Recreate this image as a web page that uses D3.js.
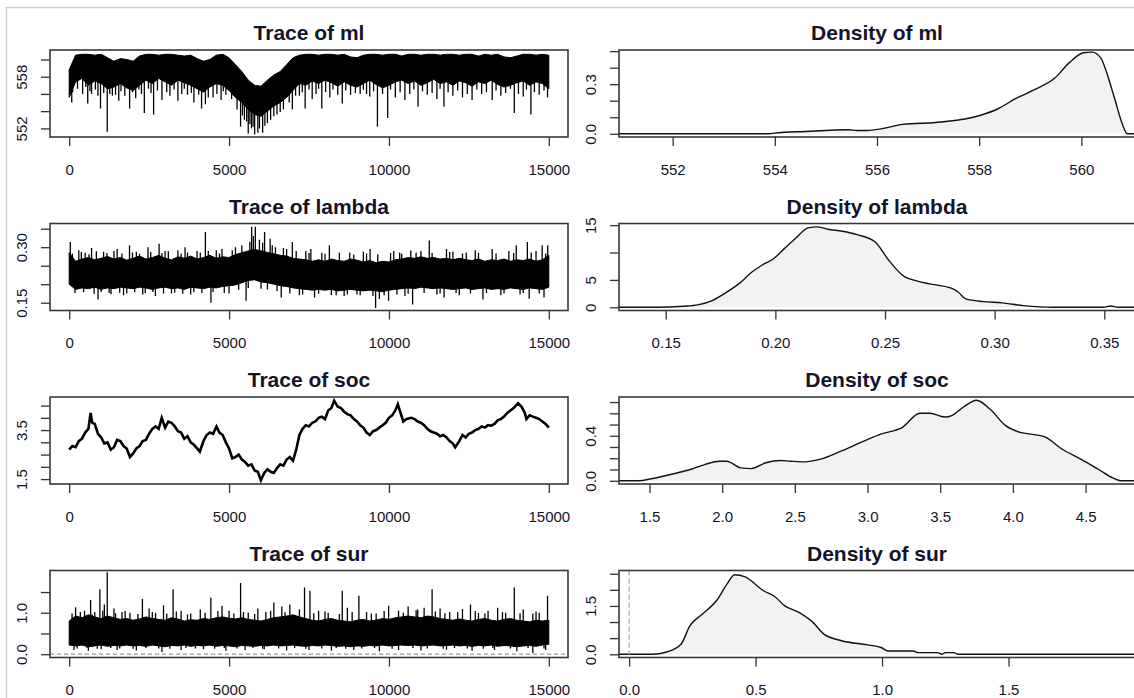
<!DOCTYPE html>
<html><head><meta charset="utf-8">
<script src="https://cdn.jsdelivr.net/npm/d3@7"></script>
<style>
body{margin:0;background:#fff;}
svg{display:block;}
text{font-family:"Liberation Sans",Arial,sans-serif;fill:#141428;}
</style>
</head><body>
<svg id="c" width="1134" height="698"></svg>
<script>
// ---------------- DATA ----------------
const params = ["ml", "lambda", "soc", "sur"];
const traceXTicks = [0, 5000, 10000, 15000];
const traceXLabels = ["0", "5000", "10000", "15000"];
const binStep = 200; // iteration spacing of the band arrays below

// ml trace band (upper / lower edge of the dense core)
const mlHi = [558.8,560.5,560.6,560.6,560.5,560.6,560.2,559.8,560.1,560.0,
  559.8,560.4,560.6,560.6,560.5,560.6,560.6,560.5,560.4,560.5,
  560.1,559.8,560.0,560.5,560.6,560.2,559.4,558.6,557.6,557.0,
  556.9,557.6,558.2,558.6,559.4,560.2,560.5,560.6,560.6,560.5,
  560.6,560.6,560.5,560.6,560.3,560.2,560.5,560.6,560.6,560.5,
  560.6,560.6,560.4,560.6,560.6,560.5,560.6,560.6,560.5,560.6,
  560.6,560.5,560.6,560.6,560.4,560.6,560.5,560.6,560.3,560.2,
  560.4,560.6,560.6,560.5,560.6,560.5];
const mlLo = [555.6,557.4,557.8,557.0,557.5,557.2,556.6,556.8,557.2,556.7,
  556.4,557.0,557.6,557.2,557.8,557.4,557.0,557.6,557.3,557.0,
  556.6,556.2,556.8,557.2,557.0,556.4,555.6,555.0,554.2,553.6,
  553.4,554.0,554.6,555.0,555.6,556.4,557.2,557.0,557.5,557.2,
  557.6,557.3,556.9,557.4,557.0,556.8,557.2,557.6,557.1,556.7,
  557.0,557.4,557.6,557.2,557.5,557.0,557.3,557.7,557.2,557.4,
  557.0,557.5,557.3,556.9,557.4,557.2,557.6,557.1,556.8,557.0,
  557.3,557.5,557.0,557.4,557.2,556.6];
const mlSpikes = [[80,555.0],[580,554.9],[700,556.0],[980,554.3],[1190,551.6],[1350,555.8],[1550,555.2],
  [1890,554.3],[2080,555.5],[2350,553.8],[2640,553.6],[2900,555.3],[3150,555.8],[3400,555.2],[3700,555.9],
  [3900,555.0],[4140,554.3],[4260,554.8],[4500,555.6],[4750,555.3],[4900,555.9],[5360,552.2],[5480,553.0],
  [5600,551.4],[5700,552.0],[5800,551.3],[5900,551.5],[6050,551.5],[6200,552.6],[6400,553.4],[6600,553.9],
  [6980,554.2],[7200,555.8],[7380,554.3],[7600,555.4],[7900,554.3],[8150,555.6],[8540,554.9],[8800,555.9],
  [9100,556.0],[9400,555.7],[9640,552.2],[9960,553.2],[10200,555.6],[10500,555.3],[10910,554.5],[11200,555.9],
  [11500,555.4],[11720,554.5],[12000,555.8],[12300,555.6],[12600,555.3],[12900,556.0],[13230,555.3],
  [13500,555.8],[13920,553.8],[14200,555.7],[14440,553.6],[14700,555.9],[14960,555.6]];
const mlMinor = [[110,556.2],[260,556.6],[420,556.0],[520,556.8],[650,556.3],[820,556.5],[900,555.8],[1080,556.1],
  [1270,556.0],[1450,555.9],[1620,556.3],[1740,555.8],[1980,556.2],[2180,556.5],[2260,556.0],[2480,556.6],
  [2560,556.1],[2760,556.4],[3050,556.2],[3280,556.5],[3520,556.0],[3600,556.6],[3820,556.1],[4050,555.9],
  [4350,555.6],[4620,556.0],[4820,556.3],[5080,555.4],[5250,554.2],[5420,553.5],[5550,552.8],[5650,552.5],
  [5750,552.2],[5950,552.0],[6120,552.3],[6300,553.0],[6500,553.6],[6700,554.2],[6880,555.0],[7080,555.8],
  [7290,556.2],[7500,556.5],[7720,556.0],[7800,556.6],[8020,556.2],[8250,556.5],[8400,555.9],[8650,556.4],
  [8950,556.1],[9200,556.5],[9300,556.0],[9520,556.3],[9800,556.0],[10050,556.5],[10350,556.2],[10650,556.0],
  [10780,556.5],[11050,556.3],[11350,556.1],[11600,556.6],[11850,556.2],[12150,556.4],[12450,556.0],
  [12750,556.5],[13050,556.2],[13350,556.4],[13650,556.1],[13800,556.6],[14050,556.0],[14300,556.5],
  [14550,556.2],[14850,556.4]];

// lambda trace band
const lamHi = [0.285,0.262,0.268,0.272,0.266,0.270,0.275,0.268,0.272,0.265,
  0.270,0.276,0.268,0.272,0.278,0.270,0.266,0.274,0.270,0.276,
  0.268,0.272,0.278,0.270,0.274,0.272,0.280,0.285,0.290,0.294,
  0.290,0.286,0.282,0.278,0.276,0.270,0.268,0.266,0.262,0.266,
  0.262,0.268,0.264,0.262,0.268,0.265,0.260,0.264,0.258,0.262,
  0.260,0.266,0.268,0.272,0.270,0.274,0.270,0.272,0.268,0.270,
  0.266,0.270,0.266,0.264,0.268,0.262,0.266,0.264,0.268,0.262,
  0.266,0.264,0.268,0.262,0.266,0.278];
const lamLo = [0.200,0.186,0.190,0.188,0.192,0.186,0.190,0.188,0.192,0.190,
  0.188,0.192,0.190,0.186,0.190,0.192,0.188,0.190,0.186,0.192,
  0.190,0.188,0.192,0.190,0.194,0.196,0.198,0.204,0.210,0.212,
  0.206,0.204,0.200,0.196,0.194,0.190,0.188,0.186,0.184,0.186,
  0.184,0.186,0.182,0.184,0.186,0.184,0.182,0.184,0.182,0.180,
  0.184,0.186,0.188,0.190,0.188,0.192,0.190,0.188,0.190,0.188,
  0.186,0.188,0.190,0.186,0.188,0.190,0.186,0.188,0.186,0.190,
  0.188,0.186,0.190,0.188,0.186,0.192];
const lamSpikes = [[35,0.314],[300,0.292],[500,0.285],[700,0.298],[903,0.159],[1076,0.288],[1308,0.173],
  [1500,0.295],[1700,0.170],[1887,0.305],[2100,0.288],[2300,0.172],[2465,0.300],[2697,0.168],[2812,0.309],
  [3000,0.290],[3200,0.175],[3400,0.292],[3623,0.300],[3800,0.172],[4000,0.290],[4259,0.341],[4433,0.150],
  [4600,0.292],[4780,0.295],[5000,0.175],[5200,0.300],[5532,0.155],[5706,0.355],[5760,0.330],[5822,0.355],
  [5950,0.320],[6111,0.341],[6285,0.323],[6450,0.300],[6632,0.164],[6800,0.295],[6979,0.314],[7200,0.170],
  [7400,0.290],[7558,0.295],[7674,0.164],[7900,0.285],[8137,0.305],[8350,0.170],[8600,0.168],[8773,0.286],
  [9000,0.172],[9200,0.288],[9410,0.295],[9583,0.136],[9700,0.160],[9988,0.155],[10150,0.290],[10336,0.286],
  [10500,0.168],[10683,0.291],[10740,0.145],[11000,0.290],[11262,0.318],[11500,0.172],[11725,0.164],
  [11800,0.295],[12000,0.288],[12200,0.170],[12419,0.286],[12700,0.292],[12940,0.159],[13229,0.295],
  [13500,0.170],[13750,0.290],[13981,0.305],[14100,0.172],[14329,0.314],[14387,0.161],[14600,0.290],
  [14792,0.305],[14850,0.164],[14965,0.305]];
const lamMinor = [[100,0.283],[180,0.176],[380,0.287],[450,0.178],[620,0.281],[780,0.174],[850,0.289],[1000,0.179],
  [1180,0.284],[1250,0.176],[1400,0.290],[1580,0.177],[1650,0.283],[1800,0.175],[1980,0.286],[2050,0.178],
  [2200,0.282],[2380,0.176],[2550,0.287],[2620,0.179],[2900,0.284],[2950,0.175],[3100,0.289],[3300,0.177],
  [3500,0.283],[3550,0.174],[3700,0.286],[3900,0.178],[4100,0.285],[4150,0.176],[4350,0.290],[4500,0.179],
  [4700,0.283],[4850,0.176],[5100,0.292],[5300,0.185],[5400,0.305],[5600,0.190],[5650,0.315],[6000,0.188],
  [6050,0.312],[6200,0.186],[6350,0.305],[6500,0.182],[6700,0.298],[6900,0.175],[7100,0.290],[7300,0.172],
  [7500,0.284],[7800,0.174],[8000,0.282],[8200,0.171],[8450,0.285],[8700,0.172],[8900,0.280],[9100,0.170],
  [9300,0.283],[9500,0.168],[9650,0.281],[9850,0.170],[10050,0.284],[10250,0.172],[10400,0.282],[10600,0.174],
  [10850,0.286],[11100,0.176],[11350,0.284],[11600,0.175],[11900,0.287],[12100,0.176],[12300,0.283],
  [12550,0.175],[12800,0.285],[13050,0.176],[13350,0.283],[13600,0.175],[13900,0.284],[14200,0.176],
  [14450,0.286],[14700,0.175],[14900,0.283]];

// soc trace (slowly wandering chain)
const socIter = [0,100,200,300,400,500,600,671,720,800,900,1000,1100,1200,1300,1400,1500,1600,1700,1800,
  1900,2000,2100,2200,2300,2400,2500,2600,2700,2800,2894,3000,3100,3200,3300,3400,3500,3600,3700,3800,
  3900,4000,4086,4200,4300,4400,4500,4606,4700,4800,4900,5000,5100,5200,5300,5400,5500,5600,5700,5800,
  5900,5995,6100,6200,6300,6400,6500,6600,6700,6800,6900,7000,7100,7200,7300,7400,7500,7600,7700,7800,
  7900,8000,8100,8200,8287,8400,8500,8600,8700,8800,8900,9000,9100,9200,9300,9400,9500,9600,9700,9800,
  9900,10000,10100,10200,10278,10350,10450,10550,10700,10800,10900,11000,11100,11200,11300,11400,11500,
  11600,11700,11800,11900,12000,12072,12200,12300,12400,12500,12600,12700,12800,12900,13000,13100,13200,
  13300,13400,13500,13600,13700,13800,13900,14039,14150,14250,14300,14400,14500,14600,14700,14800,14900,15000];
const socVal = [2.70,2.85,2.80,3.05,3.15,3.40,3.55,4.20,3.80,3.75,3.35,3.20,2.95,3.00,2.70,2.80,3.10,3.05,2.85,2.75,
  2.40,2.55,2.75,2.85,3.05,3.10,3.35,3.55,3.65,3.55,4.00,3.60,3.85,3.80,3.65,3.45,3.40,3.15,3.25,3.00,
  2.90,2.75,2.62,3.05,3.30,3.40,3.35,3.65,3.40,3.30,3.00,2.75,2.35,2.40,2.50,2.30,2.20,2.05,2.10,1.85,
  1.80,1.45,1.75,1.90,1.80,1.75,1.95,2.10,2.05,2.30,2.40,2.25,2.70,3.30,3.55,3.70,3.65,3.80,3.85,4.00,
  4.05,3.95,4.30,4.40,4.70,4.45,4.40,4.25,4.15,4.10,3.95,3.85,3.70,3.60,3.40,3.30,3.45,3.50,3.60,3.70,
  3.80,4.00,4.10,4.30,4.55,4.25,3.85,3.95,4.00,3.95,3.85,3.80,3.70,3.55,3.45,3.40,3.35,
  3.25,3.30,3.20,3.05,2.95,2.80,3.05,3.30,3.20,3.35,3.40,3.50,3.55,3.65,3.60,3.70,3.68,
  3.75,3.90,3.95,4.05,4.20,4.30,4.40,4.60,4.45,4.20,3.95,4.10,4.05,4.00,3.95,3.85,3.75,3.60];

// sur trace band
const surHi = [0.80,0.92,0.88,0.95,0.90,0.86,0.92,0.88,0.84,0.86,
  0.82,0.85,0.90,0.86,0.84,0.82,0.88,0.85,0.80,0.83,
  0.82,0.86,0.84,0.88,0.90,0.87,0.85,0.88,0.84,0.82,
  0.80,0.84,0.88,0.90,0.92,0.95,0.90,0.86,0.82,0.80,
  0.84,0.86,0.82,0.80,0.78,0.82,0.84,0.80,0.82,0.86,
  0.84,0.88,0.90,0.92,0.90,0.88,0.92,0.90,0.86,0.84,
  0.82,0.85,0.82,0.80,0.84,0.86,0.82,0.80,0.84,0.86,
  0.82,0.80,0.78,0.82,0.80,0.82];
const surLo = [0.22,0.20,0.22,0.18,0.20,0.22,0.19,0.21,0.20,0.22,
  0.20,0.21,0.19,0.22,0.20,0.18,0.21,0.20,0.22,0.19,
  0.21,0.20,0.22,0.19,0.21,0.20,0.18,0.21,0.20,0.19,
  0.21,0.20,0.22,0.20,0.21,0.22,0.20,0.19,0.21,0.20,
  0.22,0.21,0.19,0.20,0.18,0.20,0.19,0.21,0.20,0.22,
  0.20,0.21,0.22,0.21,0.22,0.20,0.21,0.22,0.20,0.21,
  0.22,0.20,0.21,0.19,0.21,0.20,0.22,0.19,0.21,0.20,
  0.18,0.20,0.21,0.19,0.22,0.24];
const surSpikes = [[200,1.13],[480,1.05],[670,1.31],[800,1.02],[960,1.57],[1100,1.20],[1190,1.98],[1400,1.10],
  [1650,1.02],[1900,1.00],[2290,1.33],[2500,1.10],[2700,1.00],[2950,1.18],[3250,1.57],[3500,1.05],[3800,0.98],
  [4100,1.08],[4430,1.37],[4780,1.17],[5000,1.05],[5360,1.72],[5600,1.00],[5900,1.10],[6150,1.02],[6400,1.25],
  [6650,1.15],[6900,1.20],[7360,1.61],[7530,1.53],[7800,1.05],[8100,1.00],[8540,1.53],[8700,1.12],[9060,1.41],
  [9300,1.02],[9600,0.98],[9990,1.17],[10300,1.05],[10600,1.15],[10900,1.08],[11100,1.12],[11350,1.57],
  [11600,1.10],[11900,1.02],[12300,1.09],[12550,1.20],[12800,1.00],[13100,1.05],[13400,1.12],[13650,1.00],
  [13920,1.61],[14200,1.08],[14500,0.98],[14700,1.00],[14960,1.41],
  [150,0.10],[600,0.08],[1000,0.12],[1500,0.10],[2100,0.09],[2900,0.05],[3500,0.10],[4200,0.12],[4900,0.08],
  [5500,0.10],[6100,0.12],[6800,0.09],[7500,0.10],[8200,0.08],[8900,0.10],[9700,0.07],[10300,0.10],
  [11000,0.09],[11800,0.11],[12600,0.08],[13300,0.10],[14000,0.07],[14500,0.03],[14900,0.10]];
const surMinor = [[90,0.98],[250,0.14],[350,1.02],[560,0.15],[720,0.96],[880,0.13],[1050,1.05],[1300,0.15],
  [1450,0.99],[1580,0.14],[1750,1.04],[2000,0.13],[2150,0.97],[2400,0.15],[2600,1.02],[2800,0.14],[3050,0.98],
  [3150,0.13],[3350,1.03],[3650,0.15],[3700,0.96],[3950,0.14],[4250,1.00],[4550,0.13],[4650,1.04],[4850,0.15],
  [5150,0.98],[5250,0.14],[5450,1.02],[5750,0.15],[5800,0.97],[6050,0.13],[6300,1.05],[6550,0.14],[6750,1.01],
  [7050,0.15],[7200,1.08],[7400,0.13],[7650,0.99],[7900,0.14],[8000,1.03],[8350,0.15],[8450,0.97],[8650,0.13],
  [8850,1.02],[9150,0.14],[9450,0.98],[9550,0.15],[9850,1.04],[10100,0.13],[10450,1.00],[10750,0.15],
  [10850,1.06],[11200,0.14],[11450,1.03],[11700,0.13],[11750,0.99],[12050,0.15],[12150,1.02],[12450,0.14],
  [12700,1.04],[12950,0.13],[13000,0.98],[13250,0.15],[13550,1.01],[13800,0.14],[14100,0.99],[14350,0.15],
  [14600,1.03],[14850,0.14]];

// densities
const mlDensX = [550.95,553.9,554.0,554.6,555.45,555.6,555.8,556.1,556.5,557.26,558.03,558.38,558.72,559.07,559.48,559.76,560.04,560.21,560.38,560.52,560.66,560.8,560.9,561.05];
const mlDensY = [0,0,0.004,0.014,0.024,0.020,0.020,0.031,0.057,0.071,0.112,0.153,0.214,0.265,0.337,0.429,0.490,0.494,0.459,0.347,0.204,0.061,0.0,0];
const lamDensX = [0.1287,0.1459,0.1580,0.1646,0.1712,0.1778,0.1843,0.1893,0.1942,0.1992,0.2041,0.2091,0.2149,0.2190,0.2240,0.2306,0.2372,0.2455,0.2521,0.2587,0.2636,0.2702,0.2802,0.2835,0.2868,0.2950,0.3033,0.3132,0.3264,0.3496,0.3529,0.3562,0.364];
const lamDensY = [0,0,0.18,0.43,1.22,2.75,4.59,6.43,7.77,8.87,10.71,12.55,14.5,14.69,14.26,13.89,13.28,11.93,8.38,5.63,4.9,4.28,3.49,2.75,1.53,1.04,0.80,0.31,0,0,0.24,0,0];
const socDensX = [1.29,1.426,1.512,1.66,1.78,1.88,1.98,2.03,2.13,2.20,2.30,2.40,2.47,2.57,2.67,2.82,2.97,3.09,3.24,3.36,3.43,3.53,3.58,3.66,3.75,3.84,3.95,4.05,4.15,4.22,4.34,4.47,4.59,4.69,4.74,4.84];
const socDensY = [0,0,0.018,0.06,0.10,0.144,0.174,0.174,0.114,0.108,0.16,0.18,0.174,0.168,0.19,0.265,0.35,0.415,0.475,0.60,0.60,0.567,0.58,0.656,0.716,0.64,0.49,0.43,0.41,0.39,0.28,0.19,0.10,0.024,0,0];
const surDensX = [-0.04,0.092,0.148,0.205,0.24,0.29,0.346,0.388,0.417,0.459,0.53,0.579,0.614,0.671,0.727,0.77,0.84,0.925,0.996,1.024,1.123,1.144,1.22,1.236,1.25,1.285,1.30,2.0];
const surDensY = [0,0,0.07,0.31,0.88,1.25,1.67,2.19,2.47,2.40,1.98,1.77,1.51,1.30,0.99,0.625,0.42,0.31,0.21,0.104,0.104,0.05,0.05,0,0.05,0.05,0,0];

// axes (ticks and which tick labels are printed)
const traceYDomains = {ml:[551.0,561.1], lambda:[0.129,0.364], soc:[1.30,4.85], sur:[-0.08,2.02]};
const traceYTicks = {ml:[552,554,556,558,560], lambda:[0.15,0.20,0.25,0.30,0.35], soc:[1.5,2.0,2.5,3.0,3.5,4.0,4.5], sur:[0,0.5,1.0,1.5]};
const traceYLabels = {ml:["552","","","558",""], lambda:["0.15","","","0.30",""], soc:["1.5","","","","3.5","",""], sur:["0.0","","1.0",""]};
const densXDomains = {ml:[550.95,561.05], lambda:[0.1287,0.364], soc:[1.29,4.84], sur:[-0.04,2.0]};
const densYDomains = {ml:[-0.0195,0.507], lambda:[-0.59,15.3], soc:[-0.029,0.745], sur:[-0.1,2.6]};
const densXTicks = {ml:[552,554,556,558,560], lambda:[0.15,0.20,0.25,0.30,0.35], soc:[1.5,2.0,2.5,3.0,3.5,4.0,4.5], sur:[0,0.5,1.0,1.5]};
const densXLabels = {ml:["552","554","556","558","560"], lambda:["0.15","0.20","0.25","0.30","0.35"], soc:["1.5","2.0","2.5","3.0","3.5","4.0","4.5"], sur:["0.0","0.5","1.0","1.5"]};
const densYTicks = {ml:[0,0.1,0.2,0.3,0.4,0.5], lambda:[0,5,10,15], soc:[0,0.1,0.2,0.3,0.4,0.5,0.6,0.7], sur:[0,0.5,1.0,1.5,2.0,2.5]};
const densYLabels = {ml:["0.0","","","0.3","",""], lambda:["0","5","","15"], soc:["0.0","","","","0.4","","",""], sur:["0.0","","","1.5","",""]};

// ---------------- DRAWING ----------------
const svg = d3.select("#c");
const W = 1134, H = 698;
svg.append("line").attr("x1",7).attr("x2",W).attr("y1",7.5).attr("y2",7.5).attr("stroke","#cfcfcf").attr("stroke-width",1.5);
svg.append("line").attr("x1",6.5).attr("x2",6.5).attr("y1",7).attr("y2",H).attr("stroke","#cfcfcf").attr("stroke-width",1.5);

const colL = [50, 568], colR = [619, 1135];
const boxH = 87, rowStep = 173.5, firstTop = 50;
const TICK = 9, TITLE_FS = 21, LAB_FS = 15;

const traceData = {
  ml:{hi:mlHi, lo:mlLo, spikes:mlSpikes.concat(mlMinor)},
  lambda:{hi:lamHi, lo:lamLo, spikes:lamSpikes.concat(lamMinor)},
  sur:{hi:surHi, lo:surLo, spikes:surSpikes.concat(surMinor)}
};
const densData = {
  ml:{x:mlDensX, y:mlDensY}, lambda:{x:lamDensX, y:lamDensY},
  soc:{x:socDensX, y:socDensY}, sur:{x:surDensX, y:surDensY}
};

let clipId = 0;
function panel(x0, x1, y0, y1, title, xs, ys, xt, xl, yt, yl, drawFn) {
  const g = svg.append("g");
  const id = "clip" + (clipId++);
  svg.append("clipPath").attr("id", id).append("rect")
    .attr("x", x0).attr("y", y0).attr("width", x1 - x0).attr("height", y1 - y0);
  const inner = g.append("g").attr("clip-path", `url(#${id})`);
  drawFn(inner);
  const ax = g.append("g").attr("transform", `translate(0,${y1})`)
    .call(d3.axisBottom(xs).tickValues(xt).tickSize(TICK).tickPadding(18).tickFormat((d,i)=>xl[i]));
  ax.select(".domain").remove();
  ax.selectAll("line").attr("stroke","#333").attr("stroke-width",1.3);
  ax.selectAll("text").attr("font-size",LAB_FS).attr("fill","#141428").attr("font-family",null);
  const ay = g.append("g").attr("transform", `translate(${x0},0)`)
    .call(d3.axisLeft(ys).tickValues(yt).tickSize(TICK).tickFormat((d,i)=>yl[i]));
  ay.select(".domain").remove();
  ay.selectAll("line").attr("stroke","#333").attr("stroke-width",1.3);
  ay.selectAll("text").attr("font-size",LAB_FS).attr("fill","#141428").attr("font-family",null)
    .attr("x",0).attr("y",0).attr("dy",null)
    .attr("text-anchor","middle").attr("dominant-baseline","central")
    .attr("transform","translate(-29,0) rotate(-90)");
  g.append("rect").attr("x",x0).attr("y",y0).attr("width",x1-x0).attr("height",y1-y0)
    .attr("fill","none").attr("stroke","#383838").attr("stroke-width",1.6);
  g.append("text").attr("x",(x0+x1)/2).attr("y",y0-10).attr("text-anchor","middle")
    .attr("font-size",TITLE_FS).attr("font-weight","bold").text(title);
}

params.forEach((p, r) => {
  const y0 = firstTop + rowStep * r, y1 = y0 + boxH;
  // ---- trace ----
  const xs = d3.scaleLinear().domain([-600, 15600]).range(colL);
  const ys = d3.scaleLinear().domain(traceYDomains[p]).range([y1, y0]);
  panel(colL[0], colL[1], y0, y1, "Trace of " + p, xs, ys, traceXTicks, traceXLabels,
    traceYTicks[p], traceYLabels[p], (g) => {
      if (p === "sur") {
        g.append("line").attr("x1",colL[0]).attr("x2",colL[1]).attr("y1",ys(0)).attr("y2",ys(0))
          .attr("stroke","#9a9a9a").attr("stroke-dasharray","4,3").attr("stroke-width",1.2);
      }
      if (p === "soc") {
        const pts = socIter.map((it,i)=>[it, socVal[i]]);
        g.append("path").attr("d", d3.line().x(d=>xs(d[0])).y(d=>ys(d[1]))(pts))
          .attr("fill","none").attr("stroke","#000").attr("stroke-width",2.6).attr("stroke-linejoin","miter");
      } else {
        const td = traceData[p];
        const band = td.hi.map((h,i)=>({it:i*binStep, hi:h, lo:td.lo[i]}));
        g.append("path").attr("d", d3.area().x(d=>xs(d.it)).y0(d=>ys(d.lo)).y1(d=>ys(d.hi))(band))
          .attr("fill","#000").attr("stroke","#000").attr("stroke-width",1);
        g.selectAll(null).data(td.spikes).enter().append("line")
          .attr("x1",d=>xs(d[0])).attr("x2",d=>xs(d[0]))
          .attr("y1",d=>{const b=Math.min(td.hi.length-1,Math.round(d[0]/binStep)); return ys((td.hi[b]+td.lo[b])/2);})
          .attr("y2",d=>ys(d[1]))
          .attr("stroke","#000").attr("stroke-width",1.3);
      }
    });
  // ---- density ----
  const dxs = d3.scaleLinear().domain(densXDomains[p]).range(colR);
  const dys = d3.scaleLinear().domain(densYDomains[p]).range([y1, y0]);
  panel(colR[0], colR[1], y0, y1, "Density of " + p, dxs, dys, densXTicks[p], densXLabels[p],
    densYTicks[p], densYLabels[p], (g) => {
      const dd = densData[p];
      const pts = dd.x.map((x,i)=>[x, dd.y[i]]);
      g.append("path").attr("d", d3.area().x(d=>dxs(d[0])).y0(dys(0)).y1(d=>dys(d[1])).curve(d3.curveMonotoneX)(pts))
        .attr("fill","#f2f2f2");
      g.append("path").attr("d", d3.line().x(d=>dxs(d[0])).y(d=>dys(d[1])).curve(d3.curveMonotoneX)(pts))
        .attr("fill","none").attr("stroke","#111").attr("stroke-width",1.4);
      if (p === "sur") {
        g.append("line").attr("x1",dxs(0)).attr("x2",dxs(0)).attr("y1",y0).attr("y2",y1)
          .attr("stroke","#9a9a9a").attr("stroke-dasharray","5,3").attr("stroke-width",1.1);
      }
    });
});
</script>
</body></html>
